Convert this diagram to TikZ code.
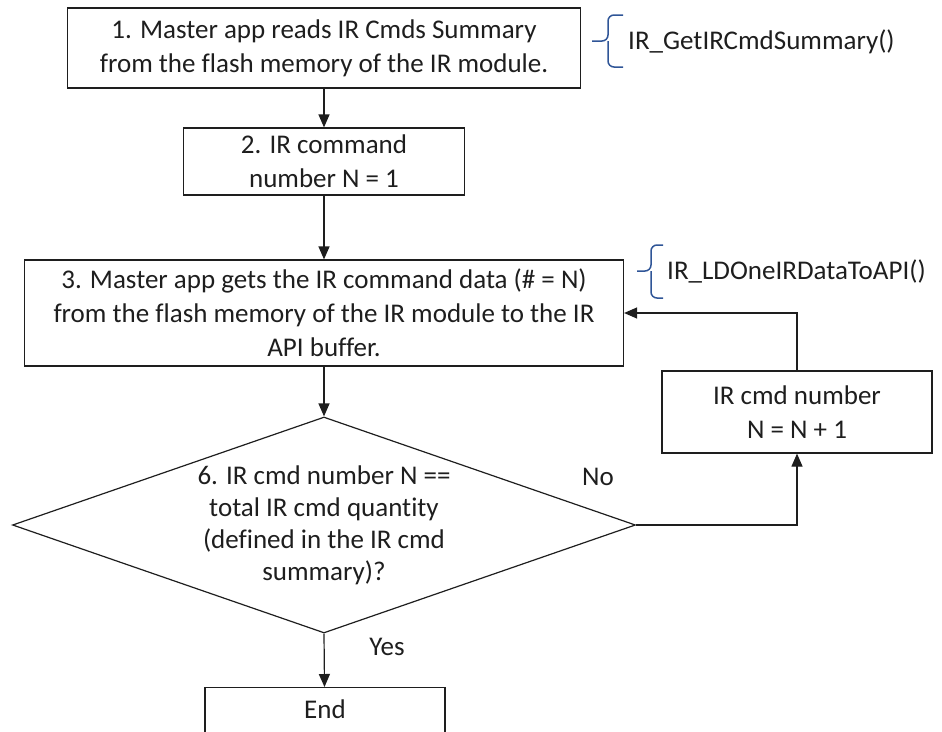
\documentclass[tikz,border=0pt]{standalone}
\usepackage{fontspec}
\setmainfont{Carlito}[Ligatures={NoCommon,NoRare}]
\usetikzlibrary{arrows.meta,shapes.geometric}
\definecolor{bracecol}{RGB}{47,85,151}
\definecolor{inkcol}{RGB}{30,30,30}

\begin{document}
\begin{tikzpicture}[
  x=1pt, y=-1pt,
  every node/.style={font=\fontsize{27}{34}\selectfont, text=inkcol},
  stepbox/.style={draw=inkcol, line width=1.2pt, align=center, inner sep=0pt},
  decbox/.style={draw=inkcol, line width=1.2pt, diamond, inner sep=0pt},
  flow/.style={draw=inkcol, line width=1.2pt, -{Triangle[length=13pt, width=11pt]}},
  apibrace/.style={draw=bracecol, line width=1.5pt, rounded corners=6pt},
  lab/.style={inner sep=0pt}
]
\useasboundingbox (0,0) rectangle (942,731);
\clip (0,0) rectangle (942,731);

% ---------- Main column ----------
\node[stepbox, minimum width=513pt, minimum height=80pt] (read) at (324,48)
  {1. Master app reads IR Cmds Summary\\from the flash memory of the IR module.};
\node[stepbox, minimum width=281pt, minimum height=67pt] (init) at (324,161.5)
  {2. IR command\\number N = 1};
\node[stepbox, minimum width=599pt, minimum height=106pt] (load) at (324,313)
  {3. Master app gets the IR command data (\# = N)\\from the flash memory of the IR module to the IR\\API buffer.};

% decision
\node[decbox, minimum width=623pt, minimum height=216pt] (check) at (324,525) {};
\node[lab, align=center, font=\fontsize{27}{32}\selectfont] (checktxt) at (check)
  {6. IR cmd number N ==\\total IR cmd quantity\\(defined in the IR cmd\\summary)?};

% end box, runs off the bottom edge
\node[stepbox, minimum width=240pt, text height=31pt, text depth=70pt, anchor=north] (fin) at (325,687) {End};

% ---------- Loop back ----------
\node[stepbox, minimum width=270pt, minimum height=82pt] (incr) at (797,412)
  {IR cmd number\\N = N + 1};

\draw[flow] (read) -- (init);
\draw[flow] (init) -- (load);
\draw[flow] (load) -- (check.north);
\draw[flow] (check.south) -- (fin);
\draw[flow] (check.east) -| (incr.south);
\draw[flow] (incr.north) |- (load.east);

\node[lab] (no) at (598,477) {No};
\node[lab] (yes) at (387,647) {Yes};

% ---------- API calls ----------
\draw[apibrace] (623,15) -| (608,41) -- (592,41);
\draw[apibrace] (608,41) |- (623,67);
\node[lab, anchor=west] (api1) at (628,42) {IR\_GetIRCmdSummary()};
\draw[apibrace] (663,245) -| (651,271) -- (637,271);
\draw[apibrace] (651,271) |- (663,298);
\node[lab, anchor=west] (api2) at (667,271) {IR\_LDOneIRDataToAPI()};

\end{tikzpicture}
\end{document}
